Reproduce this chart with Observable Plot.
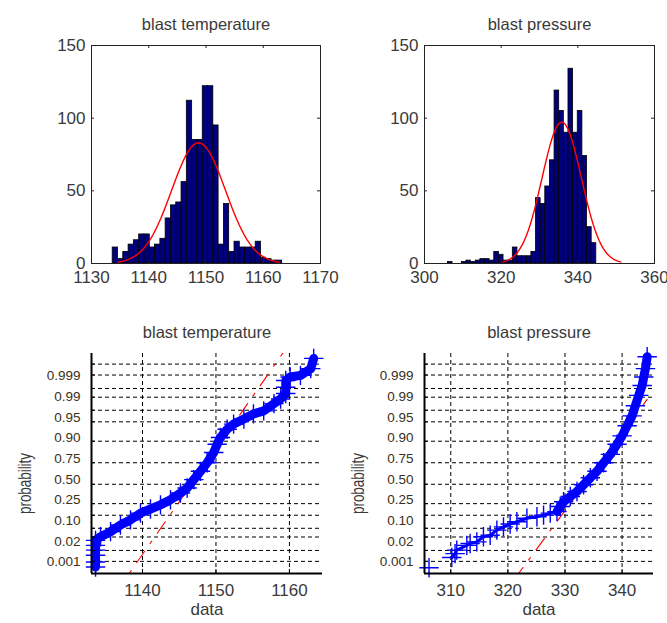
<!DOCTYPE html>
<html><head><meta charset="utf-8">
<script src="https://cdn.jsdelivr.net/npm/d3@7"></script>
<script src="https://cdn.jsdelivr.net/npm/@observablehq/plot@0.6"></script>
<style>
body{margin:0;background:#fff;}
#root{position:relative;width:667px;height:623px;overflow:hidden;background:#fff;}
#root svg{position:absolute;}
</style></head><body><div id="root"></div>
<script>
// ---------------- data ----------------
const tempTitle = "blast temperature";
const presTitle = "blast pressure";
const tempEdges = [1133.70,1134.63,1135.55,1136.48,1137.40,1138.33,1139.25,1140.18,1141.10,1142.03,1142.95,1143.88,1144.80,1145.73,1146.65,1147.58,1148.50,1149.43,1150.35,1151.28,1152.20,1153.13,1154.05,1154.98,1155.90,1156.83,1157.75,1158.68,1159.60,1160.53,1161.45,1162.38,1163.30];
const tempCounts = [11,3,8,13,16,20,20,11,13,17,31,40,42,56,112,85,85,122,122,95,13,41,8,15,11,11,11,15,4,3,2,2];
const presEdges = [306.10,307.31,308.52,309.73,310.94,312.15,313.36,314.57,315.78,316.99,318.20,319.41,320.62,321.83,323.04,324.25,325.46,326.67,327.88,329.09,330.30,331.51,332.72,333.93,335.14,336.35,337.56,338.77,339.98,341.19,342.40,343.61,344.82];
const presCounts = [1,0,0,1,2,1,2,3,3,2,8,6,2,2,11,5,5,5,8,45,41,53,71,119,105,90,134,90,105,74,25,14];
const countTicks = [0,50,100,150];
const tempHistTicks = [1130,1140,1150,1160,1170];
const presHistTicks = [300,320,340,360];
const tempFit = {mu:1148.7, sigma:4.70, n:1058, binWidth:0.925};
const presFit = {mu:335.8, sigma:5.12, n:1033, binWidth:1.209};

const tempProbX = [1133.61,1133.61,1133.61,1133.61,1133.61,1133.61,1134.29,1135.65,1137.0,1138.37,1139.73,1141.09,1142.45,1143.81,1145.17,1146.08,1146.98,1147.89,1148.8,1149.7,1150.16,1150.61,1151.52,1152.4,1153.8,1155.1,1156.5,1157.9,1158.8,1159.5,1159.5,1159.5,1160.1,1161.5,1162.9,1163.3];
const tempProbP = [0.00054,0.00094,0.00187,0.0031,0.0048,0.0075,0.0102,0.0154,0.0256,0.0367,0.0571,0.0735,0.0934,0.123,0.171,0.215,0.298,0.394,0.5,0.626,0.719,0.785,0.853,0.887,0.915,0.937,0.948,0.968,0.977,0.985,0.991,0.995,0.9964,0.9969,0.9984,0.99946];
const presProbX = [306.19,310.18,310.75,311.05,312.81,313.39,314.56,315.72,316.9,318.07,319.23,320.4,321.58,323.33,325.09,326.25,327.42,328.6,329.18,329.75,330.93,332.1,333.26,334.44,335.61,336.77,337.95,339.12,340.0,340.88,341.75,342.33,342.91,343.51,343.79,344.09,344.39];
const presProbP = [0.0005,0.0015,0.0022,0.0031,0.0048,0.0057,0.0066,0.0102,0.0116,0.0174,0.0222,0.0274,0.0322,0.0409,0.0455,0.0505,0.0571,0.063,0.0853,0.111,0.145,0.184,0.245,0.319,0.394,0.5,0.603,0.719,0.80,0.877,0.929,0.963,0.9826,0.9922,0.9964,0.9984,0.99955];
const tempRefLine = {mu:1148.7, sigma:3.03, xmin:1133.6, xmax:1163.3};
const presRefLine = {mu:336.2, sigma:4.13, xmin:306.2, xmax:344.4};
const probGrid = [0.001,0.003,0.01,0.02,0.05,0.10,0.25,0.50,0.75,0.90,0.95,0.98,0.99,0.997,0.999];
const probLabels = ["0.001","0.02","0.10","0.25","0.50","0.75","0.90","0.95","0.99","0.999"];
const probLimits = [0.00026, 0.99969];
const tempProbTicks = [1140,1150,1160];
const presProbTicks = [310,320,330,340];
const tempProbDomain = [1133.06, 1164.5];
const presProbDomain = [305.4, 345.5];

// ---------------- helpers ----------------
const FONT = '"Liberation Sans", Arial, sans-serif';
const TXT = "#3a3a3a";
const fmt = d => String(d);
function probit(p){
  const a=[-3.969683028665376e+01,2.209460984245205e+02,-2.759285104469687e+02,1.383577518672690e+02,-3.066479806614716e+01,2.506628277459239e+00];
  const b=[-5.447609879822406e+01,1.615858368580409e+02,-1.556989798598866e+02,6.680131188771972e+01,-1.328068155288572e+01];
  const c=[-7.784894002430293e-03,-3.223964580411365e-01,-2.400758277161838e+00,-2.549732539343734e+00,4.374664141464968e+00,2.938163982698783e+00];
  const d=[7.784695709041462e-03,3.224671290700398e-01,2.445134137142996e+00,3.754408661907416e+00];
  const pl=0.02425, ph=1-pl; let q,r;
  if(p<pl){q=Math.sqrt(-2*Math.log(p));return (((((c[0]*q+c[1])*q+c[2])*q+c[3])*q+c[4])*q+c[5])/((((d[0]*q+d[1])*q+d[2])*q+d[3])*q+1);}
  if(p<=ph){q=p-0.5;r=q*q;return (((((a[0]*r+a[1])*r+a[2])*r+a[3])*r+a[4])*r+a[5])*q/(((((b[0]*r+b[1])*r+b[2])*r+b[3])*r+b[4])*r+1);}
  q=Math.sqrt(-2*Math.log(1-p));return -(((((c[0]*q+c[1])*q+c[2])*q+c[3])*q+c[4])*q+c[5])/((((d[0]*q+d[1])*q+d[2])*q+d[3])*q+1);
}
const root = document.getElementById("root");
function place(svg, left, top){ svg.style.left = left+"px"; svg.style.top = top+"px"; root.appendChild(svg); }

function histPlot({edges, counts, fit, xDomain, xTicks, title, width}){
  const bins = counts.map((c,i)=>({x1:edges[i], x2:edges[i+1], count:c}));
  const k = fit.n*fit.binWidth/(fit.sigma*Math.sqrt(2*Math.PI));
  const curve = d3.range(-30,31).map(j=>{const x = fit.mu + j*0.1*fit.sigma; return {x, y:k*Math.exp(-0.5*((x-fit.mu)/fit.sigma)**2)};});
  const mL=91, mR=13, mT=45, mB=37, H=300;
  const fw = width-mL-mR, fh = H-mT-mB;
  return Plot.plot({
    width, height:H, marginLeft:mL, marginRight:mR, marginTop:mT, marginBottom:mB,
    x:{domain:xDomain, label:null, axis:null}, y:{domain:[0,150], label:null, axis:null},
    style:{fontFamily:FONT, fontSize:"17px", color:TXT, background:"transparent", overflow:"visible"},
    marks:[
      Plot.rectY(bins, {x1:"x1", x2:"x2", y:"count", fill:"#00007f", stroke:"#000", strokeWidth:0.8}),
      Plot.line(curve, {x:"x", y:"y", stroke:"#ff0000", strokeWidth:1.4}),
      Plot.frame({stroke:"#222", strokeWidth:1}),
      Plot.tickX(xTicks, {insetTop:fh-3, stroke:"#222"}),
      Plot.tickX(xTicks, {insetBottom:fh-3, stroke:"#222"}),
      Plot.tickY(countTicks, {insetRight:fw-3, stroke:"#222"}),
      Plot.tickY(countTicks, {insetLeft:fw-3, stroke:"#222"}),
      Plot.axisX(xTicks, {tickSize:0, tickPadding:7, fontSize:17, fill:TXT, tickFormat:fmt}),
      Plot.axisY(countTicks, {tickSize:0, tickPadding:6, fontSize:17, fill:TXT, tickFormat:fmt}),
      Plot.text([title], {frameAnchor:"top", lineAnchor:"middle", dy:-21, fontSize:16.5, fill:TXT})
    ]
  });
}

function probPlot({xs, ps, ref, xDomain, xTicks, title, width, mR, denseFrom, lineFrom}){
  const zDom = probLimits.map(probit);
  const pts = xs.map((x,i)=>({x, z:probit(ps[i]), p:ps[i]}));
  const dense = pts.filter(d=>d.p>=denseFrom);
  const refPts = [ref.xmin, ref.xmax].map(x=>({x, z:(x-ref.mu)/ref.sigma}));
  const labelZ = d3.scaleLinear().domain([0, probLabels.length-1]).range([-3.11, 2.72]);
  const labels = probLabels.map((t,i)=>({t, z:labelZ(i)}));
  const mL=91, mT=53, mB=50, H=323;
  const fw = width-mL-mR, fh = H-mT-mB;
  const gz = probGrid.map(probit);
  const svg = Plot.plot({
    width, height:H, marginLeft:mL, marginRight:mR, marginTop:mT, marginBottom:mB,
    x:{domain:xDomain, label:null, axis:null}, y:{domain:zDom, label:null, axis:null},
    style:{fontFamily:FONT, fontSize:"16px", color:TXT, background:"transparent", overflow:"visible"},
    marks:[
      Plot.ruleY(gz, {stroke:"#000", strokeDasharray:"4,3", strokeWidth:1}),
      Plot.ruleX(xTicks, {stroke:"#000", strokeDasharray:"4,3", strokeWidth:1}),
      Plot.line(refPts, {x:"x", y:"z", stroke:"#ff0000", strokeWidth:1.1, strokeDasharray:"14,9.5,3,9.5", clip:true}),
      Plot.line(pts.slice(lineFrom), {x:"x", y:"z", stroke:"#0000ff", strokeWidth:3}),
      Plot.line(dense, {x:"x", y:"z", stroke:"#0000ff", strokeWidth:9, strokeLinecap:"round", strokeLinejoin:"round"}),
      Plot.dot(pts, {x:"x", y:"z", symbol:"plus", r:6.3, stroke:"#0000ff", strokeWidth:1.4}),
      Plot.ruleX([xDomain[0]], {stroke:"#000", strokeWidth:2}),
      Plot.ruleY([zDom[0]], {stroke:"#000", strokeWidth:2}),
      Plot.tickY(gz, {insetRight:fw-4, stroke:"#000", strokeWidth:1}),
      Plot.tickX(xTicks, {insetTop:fh-4, stroke:"#000", strokeWidth:1}),
      Plot.text(labels, {y:"z", text:"t", frameAnchor:"left", textAnchor:"end", dx:-11, fontSize:13.5, fill:"#3a3020"}),
      Plot.axisX(xTicks, {tickSize:0, tickPadding:10, fontSize:17, fill:TXT, tickFormat:fmt}),
      Plot.text([title], {frameAnchor:"top", lineAnchor:"middle", dy:-21, fontSize:16.5, fill:TXT}),
      Plot.text(["data"], {frameAnchor:"bottom", lineAnchor:"middle", dy:36, fontSize:17, fill:TXT}),
      Plot.text(["probability"], {frameAnchor:"left", textAnchor:"middle", rotate:-90, lineAnchor:"middle", dx:-67, dy:20, fontSize:19, fill:TXT})
    ]
  });
  // the reference's rotated label is squeezed along its length
  svg.querySelectorAll("text").forEach(t => {
    if (t.textContent === "probability") { t.setAttribute("textLength", "61"); t.setAttribute("lengthAdjust", "spacingAndGlyphs"); }
  });
  return svg;
}

place(histPlot({edges:tempEdges, counts:tempCounts, fit:tempFit, xDomain:[1130,1170], xTicks:tempHistTicks, title:tempTitle, width:333}), 0, 0);
place(histPlot({edges:presEdges, counts:presCounts, fit:presFit, xDomain:[300,360], xTicks:presHistTicks, title:presTitle, width:334}), 333, 0);
place(probPlot({xs:tempProbX, ps:tempProbP, ref:tempRefLine, xDomain:tempProbDomain, xTicks:tempProbTicks, title:tempTitle, width:333, mR:11, denseFrom:0, lineFrom:0}), 0, 300);
place(probPlot({xs:presProbX, ps:presProbP, ref:presRefLine, xDomain:presProbDomain, xTicks:presProbTicks, title:presTitle, width:334, mR:14, denseFrom:0.06, lineFrom:1}), 333, 300);
</script>
</body></html>
